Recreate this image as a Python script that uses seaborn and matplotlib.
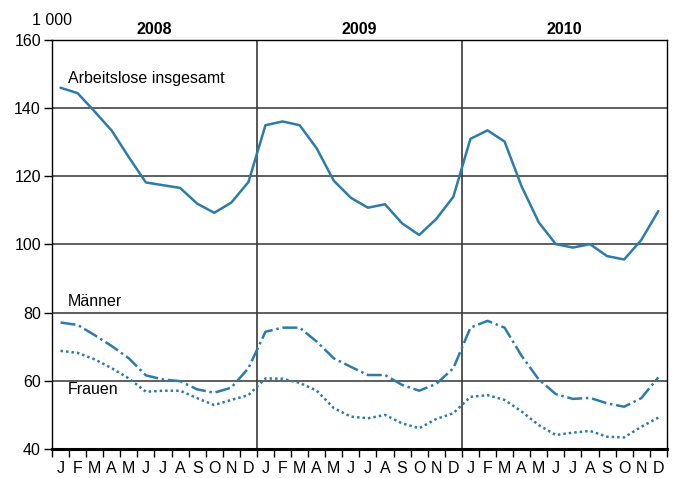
import matplotlib
matplotlib.use("Agg")
import matplotlib.pyplot as plt
import seaborn as sns
import pandas as pd
import numpy as np

# Arbeitslose, in 1 000, Jan 2008 - Dez 2010
years = ["2008", "2009", "2010"]
month_letters = ["J", "F", "M", "A", "M", "J", "J", "A", "S", "O", "N", "D"]

total = [146.0, 144.4, 139.0, 133.4, 125.6, 118.2, 117.4, 116.6, 112.0, 109.3, 112.3, 118.3,
         135.0, 136.1, 135.0, 128.2, 118.7, 113.7, 110.8, 111.8, 106.2, 102.8, 107.5, 114.0,
         131.0, 133.5, 130.2, 117.0, 106.5, 100.1, 99.1, 100.1, 96.6, 95.6, 101.3, 109.8]
maenner = [77.1, 76.4, 73.4, 70.2, 66.6, 61.6, 60.4, 59.9, 57.5, 56.5, 58.0, 63.7,
           74.4, 75.6, 75.6, 71.5, 66.6, 64.1, 61.7, 61.7, 58.8, 57.1, 59.1, 63.7,
           75.6, 77.6, 75.6, 67.3, 60.4, 56.1, 54.7, 55.0, 53.4, 52.4, 54.9, 61.0]
frauen = [68.8, 68.2, 66.3, 63.7, 60.7, 56.8, 57.1, 57.1, 54.9, 52.9, 54.4, 55.8,
          60.7, 60.6, 59.4, 57.1, 52.0, 49.5, 49.0, 50.0, 47.5, 46.1, 48.8, 50.5,
          55.3, 55.8, 54.4, 51.0, 47.0, 44.1, 44.8, 45.3, 43.6, 43.4, 46.5, 49.2]

series_labels = ["Arbeitslose insgesamt", "Männer", "Frauen"]

n = len(total)
df = pd.DataFrame({
    "monat": list(range(n)) * 3,
    "wert": total + maenner + frauen,
    "reihe": [series_labels[0]] * n + [series_labels[1]] * n + [series_labels[2]] * n,
})

sns.set_style("white")
plt.rcParams["font.family"] = ["Liberation Sans", "DejaVu Sans"]
plt.rcParams["text.color"] = "black"
plt.rcParams["xtick.color"] = "black"
plt.rcParams["ytick.color"] = "black"

blue = "#2b7ca8"
fig = plt.figure(figsize=(6.77, 4.78), dpi=100)
ax = fig.add_axes([0.0768, 0.0607, 0.9082, 0.8556])

# grid first so the lines sit on top
for y in [60, 80, 100, 120, 140]:
    ax.axhline(y, color="#5e5e5e", lw=1.4, zorder=1)
for x in [11.5, 23.5]:
    ax.axvline(x, color="#3a3a3a", lw=1.2, zorder=1)

sns.lineplot(data=df, x="monat", y="wert", hue="reihe", style="reihe",
             palette=[blue, blue, blue],
             dashes={series_labels[0]: "", series_labels[1]: (6, 1.5, 1, 1.5),
                     series_labels[2]: (1, 1.2)},
             linewidth=1.8, legend=False, ax=ax, zorder=3)

ax.set_xlim(-0.5, 35.5)
ax.set_ylim(40, 160)
ax.set_yticks([40, 60, 80, 100, 120, 140, 160])
ax.set_xlabel("")
ax.set_ylabel("")

ax.set_xticks(np.arange(-0.5, 36, 1))
ax.set_xticklabels([])
ax.set_xticks(np.arange(0, 36, 1), minor=True)
ax.set_xticklabels(month_letters * 3, minor=True)
ax.tick_params(axis="x", which="major", direction="out", length=6, width=1, color="black", bottom=True)
ax.tick_params(axis="x", which="minor", length=0, labelsize=11.5, pad=9)
ax.tick_params(axis="y", direction="out", length=6, width=1, color="black", left=True,
               labelsize=11.5, pad=2)

for side in ["left", "top", "right"]:
    ax.spines[side].set_color("black")
    ax.spines[side].set_linewidth(1.0)
ax.spines["bottom"].set_color("black")
ax.spines["bottom"].set_linewidth(2.2)

for i, yr in enumerate(years):
    ax.text(i * 12 + 5.5, 161, yr, ha="center", va="bottom", fontsize=11.5, fontweight="bold")
ax.text(-0.5, 163.5, "1 000", ha="center", va="bottom", fontsize=11.5)

ax.text(0.45, 148.8, series_labels[0], ha="left", va="center", fontsize=11.5)
ax.text(0.45, 83.2, series_labels[1], ha="left", va="center", fontsize=11.5)
ax.text(0.45, 57.6, series_labels[2], ha="left", va="center", fontsize=11.5)

fig.savefig("out.png", dpi=100)
